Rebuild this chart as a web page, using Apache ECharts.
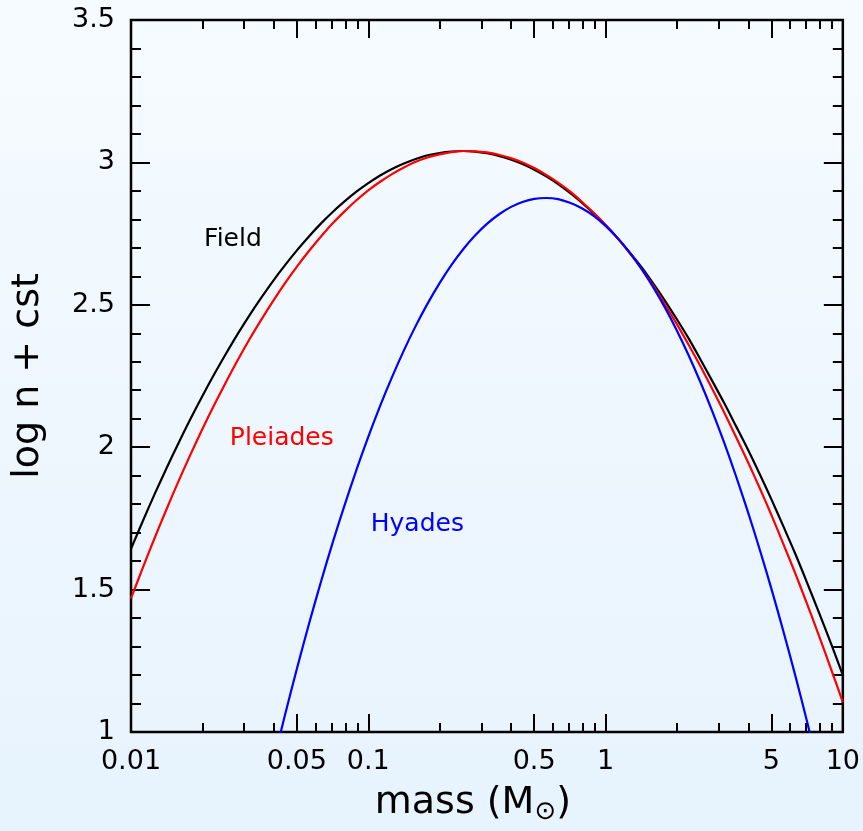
<!DOCTYPE html>
<html><head><meta charset="utf-8">
<script src="https://cdn.jsdelivr.net/npm/echarts@6/dist/echarts.min.js"></script>
<style>html,body{margin:0;padding:0;}#c{width:863px;height:831px;}</style>
</head><body><div id="c"></div>
<script>
// mass grid (solar masses)
const masses = [0.01, 0.01122, 0.01259, 0.01413, 0.01585, 0.01778, 0.01995, 0.02239, 0.02512, 0.02818,
  0.03162, 0.03548, 0.03981, 0.04467, 0.05012, 0.05623, 0.0631, 0.07079, 0.07943, 0.08913,
  0.1, 0.1122, 0.1259, 0.1413, 0.1585, 0.1778, 0.1995, 0.2239, 0.2512, 0.2818,
  0.3162, 0.3548, 0.3981, 0.4467, 0.5012, 0.5623, 0.631, 0.7079, 0.7943, 0.8913,
  1, 1.122, 1.259, 1.413, 1.585, 1.778, 1.995, 2.239, 2.512, 2.818,
  3.162, 3.548, 3.981, 4.467, 5.012, 5.623, 6.31, 7.079, 7.943, 8.913, 10];
const field = [1.643, 1.741, 1.836, 1.927, 2.014, 2.098, 2.178, 2.255, 2.328, 2.398,
  2.464, 2.526, 2.585, 2.640, 2.692, 2.740, 2.785, 2.826, 2.863, 2.897,
  2.927, 2.954, 2.977, 2.996, 3.012, 3.025, 3.033, 3.038, 3.040, 3.038,
  3.032, 3.023, 3.010, 2.994, 2.974, 2.951, 2.924, 2.893, 2.859, 2.821,
  2.780, 2.735, 2.686, 2.634, 2.576, 2.515, 2.450, 2.382, 2.308, 2.232,
  2.155, 2.074, 1.992, 1.905, 1.815, 1.721, 1.625, 1.523, 1.418, 1.311, 1.200];
const pleiades = [1.469, 1.577, 1.682, 1.783, 1.880, 1.973, 2.062, 2.147, 2.228, 2.306,
  2.380, 2.449, 2.515, 2.577, 2.635, 2.689, 2.739, 2.786, 2.828, 2.867,
  2.902, 2.932, 2.959, 2.982, 3.002, 3.017, 3.028, 3.036, 3.040, 3.039,
  3.035, 3.027, 3.015, 3.000, 2.980, 2.956, 2.929, 2.898, 2.862, 2.823,
  2.780, 2.734, 2.683, 2.628, 2.568, 2.502, 2.433, 2.360, 2.284, 2.204,
  2.122, 2.036, 1.948, 1.856, 1.760, 1.659, 1.556, 1.448, 1.337, 1.222, 1.105];
const hyades = [null, null, null, null, null, null, null, null, null, null,
  null, 0.718, 0.894, 1.063, 1.225, 1.379, 1.526, 1.665, 1.796, 1.920,
  2.036, 2.145, 2.246, 2.340, 2.426, 2.504, 2.575, 2.639, 2.695, 2.743,
  2.784, 2.817, 2.843, 2.861, 2.872, 2.875, 2.871, 2.858, 2.839, 2.812,
  2.777, 2.735, 2.685, 2.628, 2.563, 2.491, 2.411, 2.323, 2.228, 2.126,
  2.016, 1.898, 1.773, 1.640, 1.500, 1.352, 1.197, 1.034, 0.863, 0.685, null];
// tick values
const xMajorTicks = [0.01, 0.05, 0.1, 0.5, 1, 5, 10];
const xMinorTicks = [0.02, 0.03, 0.04, 0.06, 0.07, 0.08, 0.09, 0.2, 0.3, 0.4, 0.6, 0.7, 0.8, 0.9,
  2, 3, 4, 6, 7, 8, 9];
// curve labels: [mass, value, text]
const curveLabels = [[0.0269, 2.728, 'Field'], [0.0432, 2.032, 'Pleiades'], [0.161, 1.730, 'Hyades']];
const colors = {Field: '#000000', Pleiades: '#ff0000', Hyades: '#0000ff'};

const FONT = 'DejaVu Sans';
const chart = echarts.init(document.getElementById('c'));
const pair = (ys) => masses.map((m, i) => [m, ys[i]]);
function xAx(pos, ticks, len, labels) {
  return {
    type: 'log', logBase: 10, min: 0.01, max: 10, position: pos,
    axisLine: {show: false}, splitLine: {show: false},
    axisTick: {show: true, inside: true, length: len, customValues: ticks, lineStyle: {color: '#000', width: 2}},
    axisLabel: labels ? {show: true, customValues: ticks, margin: 16, color: '#000', fontSize: 27, fontFamily: FONT,
      formatter: v => String(+v.toPrecision(3))} : {show: false},
    name: labels ? 'mass (M{sub|⊙})' : '', nameLocation: 'middle', nameGap: 49,
    nameTextStyle: {fontSize: 38, fontFamily: FONT, color: '#000', padding: [0, 28, 0, 0],
      rich: {sub: {fontSize: 26, fontFamily: FONT, color: '#000', padding: [18, 0, 0, 0]}}}
  };
}
function yAx(pos, labels) {
  return {
    type: 'value', min: 1, max: 3.5, interval: 0.5, position: pos,
    axisLine: {show: false}, splitLine: {show: false},
    axisTick: {show: true, inside: true, length: 19, lineStyle: {color: '#000', width: 2}},
    minorTick: {show: true, splitNumber: 5, length: 10, lineStyle: {color: '#000', width: 2}},
    minorSplitLine: {show: false},
    axisLabel: labels ? {show: true, margin: 16, color: '#000', fontSize: 27, fontFamily: FONT} : {show: false},
    name: labels ? 'log n + cst' : '', nameLocation: 'middle', nameGap: 84, nameRotate: 90,
    nameTextStyle: {fontSize: 38, fontFamily: FONT, color: '#000', padding: [0, 0, 0, 0]}
  };
}
const lineSeries = (name, ys) => ({
  type: 'line', name, data: pair(ys), showSymbol: false, symbol: 'none', smooth: 0.3,
  xAxisIndex: 0, yAxisIndex: 0, clip: true, connectNulls: false,
  lineStyle: {color: colors[name], width: 2.2}, animation: false
});
chart.setOption({
  animation: false,
  backgroundColor: {type: 'linear', x: 0, y: 0, x2: 0, y2: 1,
    colorStops: [{offset: 0, color: '#f6fbff'}, {offset: 1, color: '#e7f3fd'}]},
  grid: {left: 131, right: 19, top: 20, bottom: 99, show: true, borderColor: '#000', borderWidth: 2.5, backgroundColor: 'transparent'},
  xAxis: [xAx('bottom', xMajorTicks, 18, true), xAx('bottom', xMinorTicks, 9, false),
          xAx('top', xMajorTicks, 18, false), xAx('top', xMinorTicks, 9, false)],
  yAxis: [yAx('left', true), yAx('right', false)],
  series: [
    lineSeries('Field', field),
    lineSeries('Pleiades', pleiades),
    lineSeries('Hyades', hyades),
    {type: 'scatter', xAxisIndex: 0, yAxisIndex: 0, symbolSize: 0, silent: true,
     itemStyle: {opacity: 1},
     data: curveLabels.map(d => ({value: [d[0], d[1]], name: d[2],
       label: {show: true, position: 'inside', formatter: d[2], color: colors[d[2]], opacity: 1,
         textBorderWidth: 0, fontSize: 25, fontFamily: FONT}}))}
  ]
});
</script></body></html>
